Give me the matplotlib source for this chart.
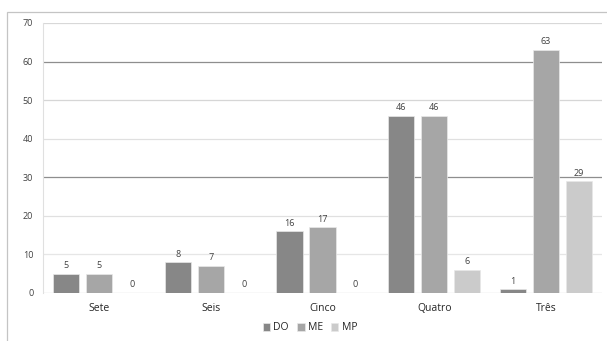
import matplotlib
matplotlib.use("Agg")
import matplotlib.pyplot as plt
from matplotlib.patches import Rectangle
import numpy as np

categories = ["Sete", "Seis", "Cinco", "Quatro", "Três"]
series_names = ["DO", "ME", "MP"]
do_vals = [5, 8, 16, 46, 1]
me_vals = [5, 7, 17, 46, 63]
mp_vals = [0, 0, 0, 6, 29]
y_ticks = [0, 10, 20, 30, 40, 50, 60, 70]

colors = ["#878787", "#a6a6a6", "#cbcbcb"]
W, H = 607, 341
fig = plt.figure(figsize=(W / 100, H / 100), dpi=100)
plt.rcParams["font.family"] = ["Open Sans", "DejaVu Sans"]

# outer chart frame
fig.patches.append(Rectangle((7 / W, -0.05), 1.1, 1 - 12 / H + 0.05,
                             transform=fig.transFigure, fill=False,
                             edgecolor="#c4c4c4", linewidth=0.9))

ax = fig.add_axes([43 / W, 1 - 293 / H, (602 - 43) / W, (293 - 23) / H])
x = np.arange(len(categories))
offset = 0.295
width = 0.233
for i, (vals, name) in enumerate(zip([do_vals, me_vals, mp_vals], series_names)):
    pos = x + (i - 1) * offset
    bars = ax.bar(pos, vals, width, color=colors[i], label=name, zorder=3,
                  edgecolor="#e8e8e8", linewidth=0.5)
    for p, v in zip(pos, vals):
        ax.text(p, v + 2.1, str(v), ha="center", va="center",
                fontsize=6.5, color="#404040")

ax.set_xlim(-0.5, len(categories) - 0.5)
ax.set_ylim(0, 70)
ax.set_yticks(y_ticks)
ax.set_xticks(x)
ax.set_xticklabels(categories, fontsize=7.5, color="#262626")
ax.tick_params(axis="y", labelsize=6.5, labelcolor="#404040", length=0, pad=7)
ax.tick_params(axis="x", length=0, pad=7)

for s in ["top", "right", "bottom"]:
    ax.spines[s].set_visible(False)
ax.spines["left"].set_color("#e0e0e0")
ax.spines["left"].set_linewidth(0.8)

grid_colors = {0: "#cfcfcf", 10: "#e6e6e6", 20: "#e0e0e0", 30: "#8e8e8e",
               40: "#e0e0e0", 50: "#d6d6d6", 60: "#8e8e8e", 70: "#d8d8d8"}
for t in y_ticks:
    ax.axhline(t, color=grid_colors[t], linewidth=0.9, zorder=1)

fig.legend(loc="center", bbox_to_anchor=(310 / W, 1 - 328 / H), ncol=3,
           frameon=False, fontsize=7.5, handlelength=0.7, handleheight=0.7,
           handletextpad=0.3, columnspacing=0.8, labelcolor="#262626")

fig.savefig("out.png", dpi=100)
